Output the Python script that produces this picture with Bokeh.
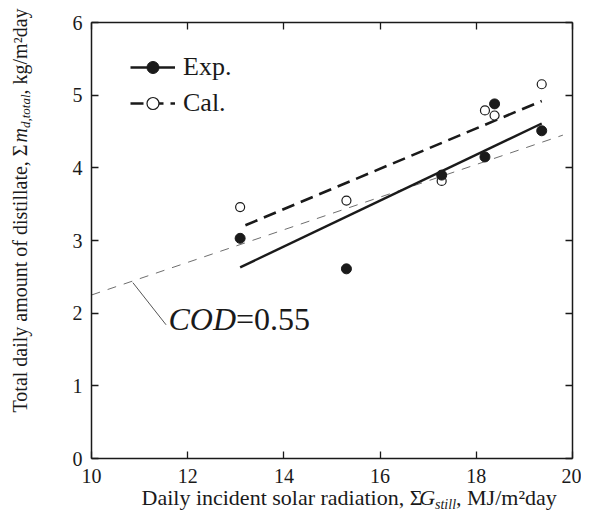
import math
from bokeh.plotting import figure
from bokeh.models import (Range1d, LinearAxis, FixedTicker, CustomJSTickFormatter,
                          Label, Legend, LegendItem)
from bokeh.embed import file_html
from bokeh.resources import INLINE

# ---------------- data ----------------
solar_radiation = [13.09, 15.30, 17.28, 18.18, 18.38, 19.36]   # MJ/m2day
distillate_exp = [3.03, 2.61, 3.90, 4.15, 4.88, 4.51]           # kg/m2day
distillate_cal = [3.46, 3.55, 3.82, 4.79, 4.72, 5.15]           # kg/m2day

exp_fit_x = [13.09, 19.36]
exp_fit_y = [2.63, 4.61]
cal_fit_x = [13.2, 19.36]
cal_fit_y = [3.21, 4.92]
cod_line_x = [10.0, 19.8]
cod_line_y = [2.25, 4.45]
cod_leader_x = [10.86, 11.55]
cod_leader_y = [2.42, 1.84]
cod_text_pos = (11.6, 1.77)

x_ticks = [10, 12, 14, 16, 18, 20]
y_ticks = [0, 1, 2, 3, 4, 5, 6]
x_lim = (10, 20)
y_lim = (0, 6)

SERIF = "Liberation Serif"
INK = "#1a1a1a"
K = 0.35  # label anchor sits this fraction of the font size above the baseline

# ---------------- layout: the frame covers the whole canvas ----------------
W, H = 581, 511
LEFT_PX, RIGHT_PX = 91, 572      # where x = 10 and x = 20 fall
TOP_PX, BOTTOM_PX = 22, 458      # where y = 6 and y = 0 fall
SX = (RIGHT_PX - LEFT_PX) / (x_lim[1] - x_lim[0])
SY = (BOTTOM_PX - TOP_PX) / (y_lim[1] - y_lim[0])
x_range = Range1d(x_lim[0] - LEFT_PX / SX, x_lim[0] + (W - LEFT_PX) / SX)
y_range = Range1d(y_lim[0] - (H - BOTTOM_PX) / SY, y_lim[1] + TOP_PX / SY)


def px_to_x(px):
    return x_lim[0] + (px - LEFT_PX) / SX


def px_to_y(py):
    return y_lim[0] + (BOTTOM_PX - py) / SY


p = figure(width=W, height=H, x_range=x_range, y_range=y_range,
           x_axis_type=None, y_axis_type=None,
           output_backend="svg", toolbar_location=None, min_border=0)
p.grid.visible = False
p.outline_line_color = None
p.background_fill_color = "white"
p.border_fill_color = "white"


def make_axis(ticks, bounds, fixed, labels):
    ax = LinearAxis(ticker=FixedTicker(ticks=ticks), bounds=bounds, fixed_location=fixed)
    ax.axis_line_color = INK
    ax.axis_line_width = 1.5
    ax.major_tick_line_color = INK
    ax.major_tick_line_width = 1.3
    ax.major_tick_in = 7
    ax.major_tick_out = 0
    ax.minor_tick_line_color = None
    ax.major_label_text_font = SERIF
    ax.major_label_text_font_size = "20px"
    ax.major_label_text_color = INK
    if not labels:
        ax.formatter = CustomJSTickFormatter(code="return ''")
        ax.major_label_text_font_size = "1px"
        ax.major_label_standoff = 0
    return ax


xa = make_axis(x_ticks, x_lim, y_lim[0], True)
xa.major_label_standoff = 10
ya = make_axis(y_ticks, y_lim, x_lim[0], True)
ya.major_label_standoff = 9
p.add_layout(xa, "below")
p.add_layout(ya, "left")
p.add_layout(make_axis(x_ticks, x_lim, y_lim[1], False), "above")
p.add_layout(make_axis(y_ticks, y_lim, x_lim[1], False), "right")

# ---------------- marks ----------------
p.line(cod_line_x, cod_line_y, line_color="#6e6e6e", line_width=1.0, line_dash="9 8")
p.line(cod_leader_x, cod_leader_y, line_color="#555555", line_width=1.0)

cal_line = p.line(cal_fit_x, cal_fit_y, line_color=INK, line_width=2.6, line_dash="13 7")
exp_line = p.line(exp_fit_x, exp_fit_y, line_color=INK, line_width=2.4)

cal_pts = p.scatter(solar_radiation, distillate_cal, size=9, marker="circle",
                    fill_color="white", line_color=INK, line_width=1.2)
exp_pts = p.scatter(solar_radiation, distillate_exp, size=10, marker="circle",
                    fill_color=INK, line_color=INK, line_width=1)

# ---------------- legend ----------------
legend = Legend(items=[LegendItem(label="Exp.", renderers=[exp_line, exp_pts]),
                       LegendItem(label="Cal.", renderers=[cal_line, cal_pts])],
                location=(130, 393), padding=0, margin=0, spacing=6,
                glyph_width=45, glyph_height=30, label_height=30, label_standoff=8,
                label_text_font=SERIF, label_text_font_size="26px", label_text_color=INK,
                border_line_color=None, background_fill_alpha=0)
p.add_layout(legend)

# ---------------- COD annotation ----------------
CF = 32
cx, cy = cod_text_pos
cy_anchor = cy + K * CF / SY
p.add_layout(Label(x=cx, y=cy_anchor, text="COD", text_font=SERIF, text_font_size=f"{CF}px",
                   text_font_style="italic", text_color=INK,
                   text_align="left", text_baseline="alphabetic"))
p.add_layout(Label(x=cx + 2.111 * CF / SX, y=cy_anchor, text="=0.55", text_font=SERIF,
                   text_font_size=f"{CF}px", text_color=INK,
                   text_align="left", text_baseline="alphabetic"))

# ---------------- x axis title (pieces) ----------------
XF = 22
XS = 14
X_START, X_BASE = 141, 505
x_pieces = [
    ("Daily incident solar radiation, \u03a3", 0.0, 0.0, XF, "normal"),
    ("G", 12.62 * XF, 0.0, XF, "italic"),
    ("still", 12.62 * XF + 0.722 * XF, 3.5, XS, "italic"),
    (", MJ/m\u00b2day", 12.62 * XF + 0.722 * XF + 1.501 * XS, 0.0, XF, "normal"),
]
for txt, dx, dy, fs, style in x_pieces:
    p.add_layout(Label(x=px_to_x(X_START + dx), y=px_to_y(X_BASE + dy - K * fs), text=txt,
                       text_font=SERIF, text_font_size=f"{fs}px", text_font_style=style,
                       text_color=INK, text_align="left", text_baseline="alphabetic"))

# ---------------- y axis title (pieces, rotated) ----------------
YF = 20
YS = 13
Y_START, Y_BASE = 412, 26
y_pieces = [
    ("Total daily amount of distillate, \u03a3", 0.0, 0.0, YF, "normal"),
    ("m", 13.50 * YF, 0.0, YF, "italic"),
    ("d,total", 13.50 * YF + 0.722 * YF, 4.0, YS, "italic"),
    (", kg/m\u00b2day", 13.50 * YF + 0.722 * YF + 2.584 * YS, 0.0, YF, "normal"),
]
for txt, dy, dx, fs, style in y_pieces:
    p.add_layout(Label(x=px_to_x(Y_BASE + dx - K * fs), y=px_to_y(Y_START - dy), text=txt,
                       text_font=SERIF, text_font_size=f"{fs}px", text_font_style=style,
                       text_color=INK, angle=math.pi / 2,
                       text_align="left", text_baseline="alphabetic"))

open("out.html", "w").write(file_html(p, INLINE))
